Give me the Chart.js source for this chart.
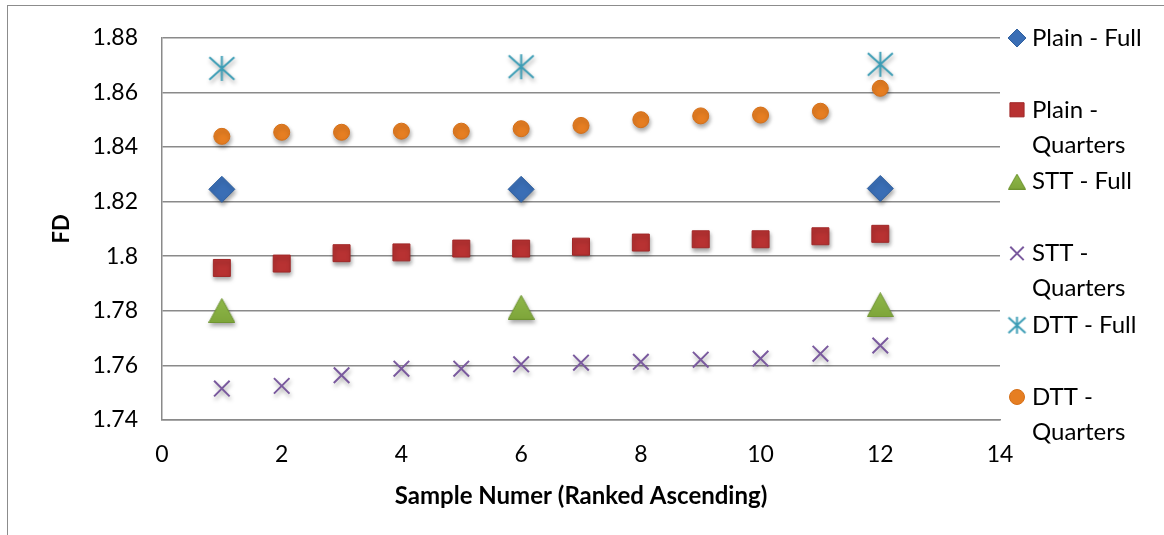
<!DOCTYPE html>
<html>
<head>
<meta charset="utf-8">
<script src="https://cdn.jsdelivr.net/npm/chart.js@4.4.0/dist/chart.umd.min.js"></script>
<style>
  html, body { margin: 0; padding: 0; background: #fff; overflow: hidden; }
  #frame { position: absolute; left: 7px; top: 5px; width: 1300px; height: 700px;
           border-left: 1.5px solid #8c8c8c; border-top: 1.5px solid #8c8c8c; }
  #wrap { position: absolute; left: 0; top: 0; width: 1164px; height: 535px; }
</style>
</head>
<body>
<div id="frame"></div>
<div id="wrap"><canvas id="chart"></canvas></div>
<script>
// sample numbers on the x axis
const samplesFull = [1, 6, 12];
const samplesQuarters = [1, 2, 3, 4, 5, 6, 7, 8, 9, 10, 11, 12];

// FD values
const plainFull = [1.8245, 1.8245, 1.8248];
const plainQuarters = [1.7957, 1.7973, 1.8011, 1.8014, 1.8028, 1.8028, 1.8035, 1.8050, 1.8062, 1.8062, 1.8073, 1.8082];
const sttFull = [1.7801, 1.7813, 1.7822];
const sttQuarters = [1.7515, 1.7525, 1.7564, 1.7588, 1.7588, 1.7604, 1.7610, 1.7613, 1.7621, 1.7625, 1.7643, 1.7673];
const dttFull = [1.8688, 1.8694, 1.8703];
const dttQuarters = [1.8439, 1.8454, 1.8454, 1.8458, 1.8458, 1.8467, 1.8479, 1.8500, 1.8514, 1.8517, 1.8531, 1.8615];

const seriesNames = [['Plain - Full'], ['Plain -', 'Quarters'], ['STT - Full'], ['STT -', 'Quarters'], ['DTT - Full'], ['DTT -', 'Quarters']];
const xTicks = [0, 2, 4, 6, 8, 10, 12, 14];
const yTicks = [1.74, 1.76, 1.78, 1.8, 1.82, 1.84, 1.86, 1.88];

const FONT = 'Lato';

// Excel style star (vertical bar + X) and a bbox-centred triangle
function starMarker(r, color, lw) {
    const s = Math.ceil(2 * r + lw + 2);
    const cv = document.createElement('canvas');
    cv.width = s; cv.height = s;
    const g = cv.getContext('2d');
    const c = s / 2;
    g.strokeStyle = color;
    g.lineWidth = lw;
    g.beginPath();
    g.moveTo(c, c - r); g.lineTo(c, c + r);
    g.moveTo(c - r, c - r * 0.9); g.lineTo(c + r, c + r * 0.9);
    g.moveTo(c - r, c + r * 0.9); g.lineTo(c + r, c - r * 0.9);
    g.stroke();
    return cv;
}

function triangleMarker(w, h, color, edge) {
    const cv = document.createElement('canvas');
    cv.width = w; cv.height = h;
    const g = cv.getContext('2d');
    const grad = g.createLinearGradient(0, 0, 0, h);
    grad.addColorStop(0, '#8fb84a');
    grad.addColorStop(1, color);
    g.fillStyle = grad;
    g.strokeStyle = edge;
    g.lineWidth = 1;
    g.beginPath();
    g.moveTo(w / 2, 0.5); g.lineTo(w - 0.5, h - 0.5); g.lineTo(0.5, h - 0.5);
    g.closePath();
    g.fill(); g.stroke();
    return cv;
}

const toPoints = (xs, ys) => xs.map((x, i) => ({ x: x, y: ys[i] }));

const colors = ['#3a6eb5', '#b83232', '#7ea53a', '#7a5a9e', '#3c9db5', '#e67e22'];

const datasets = [
    { label: 'Plain - Full', data: toPoints(samplesFull, plainFull), pointStyle: 'rectRot', pointRadius: 13,
      backgroundColor: colors[0], borderColor: '#2f5f9e', borderWidth: 1, legendStyle: 'rectRot', legendRadius: 9 },
    { label: 'Plain - Quarters', data: toPoints(samplesQuarters, plainQuarters), pointStyle: 'rect', pointRadius: 12,
      backgroundColor: colors[1], borderColor: '#a02828', borderWidth: 1, legendStyle: 'rect', legendRadius: 10 },
    { label: 'STT - Full', data: toPoints(samplesFull, sttFull), pointStyle: triangleMarker(27, 25, colors[2], '#6e9430'),
      backgroundColor: colors[2], borderColor: colors[2], borderWidth: 0, legendStyle: triangleMarker(18, 16, colors[2], '#6e9430'), legendRadius: 9 },
    { label: 'STT - Quarters', data: toPoints(samplesQuarters, sttQuarters), pointStyle: 'crossRot', pointRadius: 11,
      backgroundColor: colors[3], borderColor: colors[3], borderWidth: 2, legendStyle: 'crossRot', legendRadius: 9.5 },
    { label: 'DTT - Full', data: toPoints(samplesFull, dttFull), pointStyle: starMarker(12.5, colors[4], 2),
      backgroundColor: colors[4], borderColor: colors[4], borderWidth: 0, legendStyle: starMarker(8.5, colors[4], 2), legendRadius: 9 },
    { label: 'DTT - Quarters', data: toPoints(samplesQuarters, dttQuarters), pointStyle: 'circle', pointRadius: 8,
      backgroundColor: colors[5], borderColor: '#d46f18', borderWidth: 1, legendStyle: 'circle', legendRadius: 7.5 }
];
datasets.forEach(d => { d.pointHoverRadius = d.pointRadius; d.showLine = false; });

// soft drop shadow under the markers
const markerShadow = {
    id: 'markerShadow',
    beforeDatasetsDraw(chart) {
        const ctx = chart.ctx;
        ctx.save();
        ctx.shadowColor = 'rgba(0,0,0,0.35)';
        ctx.shadowBlur = 4;
        ctx.shadowOffsetX = 1;
        ctx.shadowOffsetY = 3;
    },
    afterDatasetsDraw(chart) {
        chart.ctx.restore();
    }
};

// legend on the right, labels wrapped like the original
const sideLegend = {
    id: 'sideLegend',
    afterDraw(chart) {
        const ctx = chart.ctx;
        const markerX = 1017, textX = 1032, firstY = 38, step = 71.8, lineH = 35;
        ctx.save();
        ctx.font = '24px ' + FONT;
        ctx.textBaseline = 'middle';
        ctx.textAlign = 'left';
        chart.data.datasets.forEach((ds, i) => {
            const y = firstY + i * step;
            ctx.fillStyle = ds.backgroundColor;
            ctx.strokeStyle = ds.borderColor;
            ctx.lineWidth = ds.borderWidth || 0;
            Chart.helpers.drawPoint(ctx, {
                pointStyle: ds.legendStyle, radius: ds.legendRadius, rotation: 0, borderWidth: ds.borderWidth
            }, markerX, y);
            ctx.fillStyle = '#000';
            seriesNames[i].forEach((line, k) => ctx.fillText(line, textX, y + k * lineH));
        });
        ctx.restore();
    }
};

const gridColor = '#8a8a8a';

new Chart(document.getElementById('chart'), {
    type: 'scatter',
    data: { datasets: datasets },
    options: {
        responsive: true,
        maintainAspectRatio: false,
        animation: false,
        events: [],
        layout: { padding: { top: 36, right: 164, bottom: 0, left: 0 } },
        plugins: {
            legend: { display: false },
            tooltip: { enabled: false }
        },
        scales: {
            x: {
                type: 'linear',
                min: 0, max: 14,
                afterBuildTicks: s => { s.ticks = xTicks.map(v => ({ value: v })); },
                afterFit: s => { s.height = 115; },
                grid: { display: false, drawTicks: false },
                border: { display: true, color: gridColor, width: 1.5 },
                ticks: { padding: 21, color: '#000', font: { family: FONT, size: 23 } },
                title: { display: true, text: 'Sample Numer (Ranked Ascending)', color: '#000',
                         font: { family: FONT, size: 24, weight: 'bold' }, padding: { top: 0, bottom: 24 } }
            },
            y: {
                type: 'linear',
                min: 1.74, max: 1.88,
                afterBuildTicks: s => { s.ticks = yTicks.map(v => ({ value: v })); },
                afterFit: s => { s.width = 162; },
                grid: { color: gridColor, lineWidth: 1.5, drawTicks: false },
                border: { display: true, color: gridColor, width: 1.5 },
                ticks: { padding: 24, color: '#000', font: { family: FONT, size: 23 },
                         callback: v => String(Math.round(v * 100) / 100) },
                title: { display: true, text: 'FD', color: '#000',
                         font: { family: FONT, size: 22, weight: 'bold' }, padding: { top: 49, bottom: 0 } }
            }
        }
    },
    plugins: [markerShadow, sideLegend]
});
</script>
</body>
</html>
